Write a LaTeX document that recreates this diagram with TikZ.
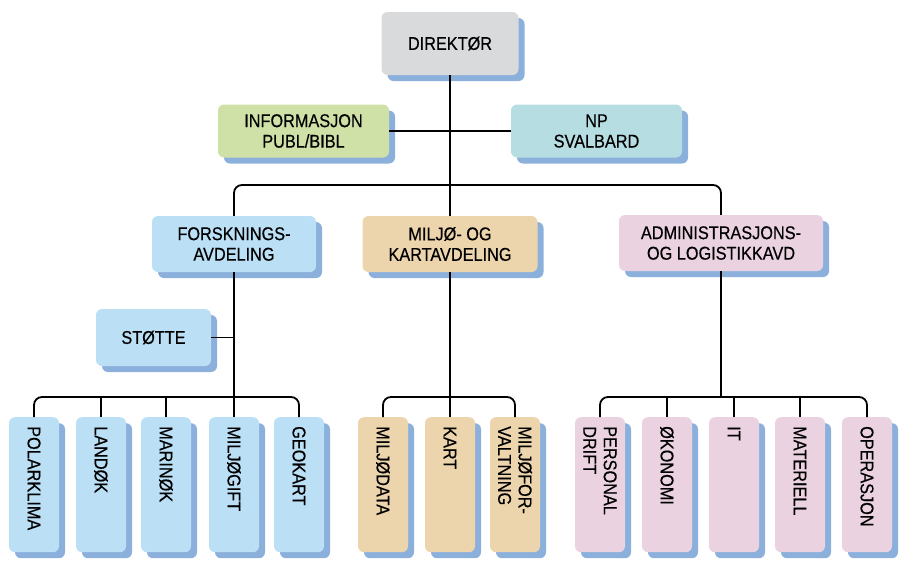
\documentclass[tikz,border=0pt]{standalone}
\usepackage{fontspec}
\setmainfont[FakeStretch=0.88, FakeBold=0.4]{Liberation Sans}
\usetikzlibrary{shadows}
\definecolor{npgray}{HTML}{D9DADC}
\definecolor{npgreen}{HTML}{D0E1A8}
\definecolor{npcyan}{HTML}{B6DDE2}
\definecolor{npblue}{HTML}{BBDFF5}
\definecolor{nptan}{HTML}{ECD4AD}
\definecolor{nppink}{HTML}{EAD2E0}
\definecolor{npshadow}{HTML}{8CB0DC}

\begin{document}
\begin{tikzpicture}[x=1pt, y=-1pt,
  every node/.style={font=\fontsize{18.5}{20.5}\selectfont},
  unit/.style={rounded corners=6pt, inner sep=0pt, align=center,
    drop shadow={shadow xshift=6pt, shadow yshift=-6pt, fill=npshadow, opacity=1}},
  topbox/.style={unit, minimum height=56pt},
  subbox/.style={unit, minimum width=50pt, minimum height=135pt, anchor=north},
  sublabel/.style={rotate=-90, anchor=west, inner sep=0pt, align=left},
  link/.style={line width=1.8pt},
  forkbar/.style={link, rounded corners=8pt}]
            \useasboundingbox (0,0) rectangle (919,582);

            % Director and staff units
            \node[unit, fill=npgray, minimum width=137pt, minimum height=63pt] (dir) at (450,43.5) {DIREKTØR};
            \node[unit, fill=npgreen, minimum width=171pt, minimum height=53pt] (info) at (303.5,131) {INFORMASJON\\PUBL/BIBL};
            \node[unit, fill=npcyan, minimum width=171pt, minimum height=53pt] (np) at (596.5,131) {NP\\SVALBARD};

            % Departments
            \node[topbox, fill=npblue, minimum width=164pt] (forsk) at (234,244) {FORSKNINGS-\\AVDELING};
            \node[topbox, fill=nptan, minimum width=175pt] (miljo) at (450,244) {MILJØ- OG\\KARTAVDELING};
            \node[topbox, fill=nppink, minimum width=204pt] (admin) at (721,243) {ADMINISTRASJONS-\\OG LOGISTIKKAVD};
            \node[unit, fill=npblue, minimum width=115pt, minimum height=57pt] (stotte) at (153.5,337.5) {STØTTE};

            % Sections with vertical labels
            \foreach \name/\cx/\col/\txt in {polar/34/npblue/POLARKLIMA, land/101/npblue/LANDØK,
                marin/166/npblue/MARINØK, gift/234/npblue/MILJØGIFT, geo/299/npblue/GEOKART,
                mdata/383/nptan/MILJØDATA, kart/450/nptan/KART, mforv/515/nptan/{MILJØFOR-\\VALTNING},
                pers/600/nppink/{PERSONAL\\DRIFT}, oko/667/nppink/ØKONOMI, it/734/nppink/IT,
                mat/800/nppink/MATERIELL, oper/867/nppink/OPERASJON} {
              \node[subbox, fill=\col] (\name) at (\cx,417) {};
              \node[sublabel] (\name-txt) at (\cx,426) {\txt};
            }

            % Connectors
            \coordinate (mainbar) at (0,185);
            \coordinate (subbar) at (0,397);
            \draw[link] (dir.south) -- (miljo.north);
            \draw[link] (info.east) -- (np.west);
            \draw[forkbar] (forsk.north) -- (forsk.north |- mainbar) -| (admin.north);
            \draw[link] (stotte.east) -- (stotte.east -| forsk.south);
            \draw[link] (forsk.south) -- (gift.north);
            \draw[link] (miljo.south) -- (kart.north);
            \draw[link] (admin.south) -- (admin.south |- subbar);
            \draw[forkbar] (polar.north) -- (polar.north |- subbar) -| (geo.north);
            \draw[forkbar] (mdata.north) -- (mdata.north |- subbar) -| (mforv.north);
            \draw[forkbar] (pers.north) -- (pers.north |- subbar) -| (oper.north);
            \foreach \name in {land, marin, oko, it, mat}
              \draw[link] (\name.north) -- (\name.north |- subbar);
        \end{tikzpicture}
\end{document}
